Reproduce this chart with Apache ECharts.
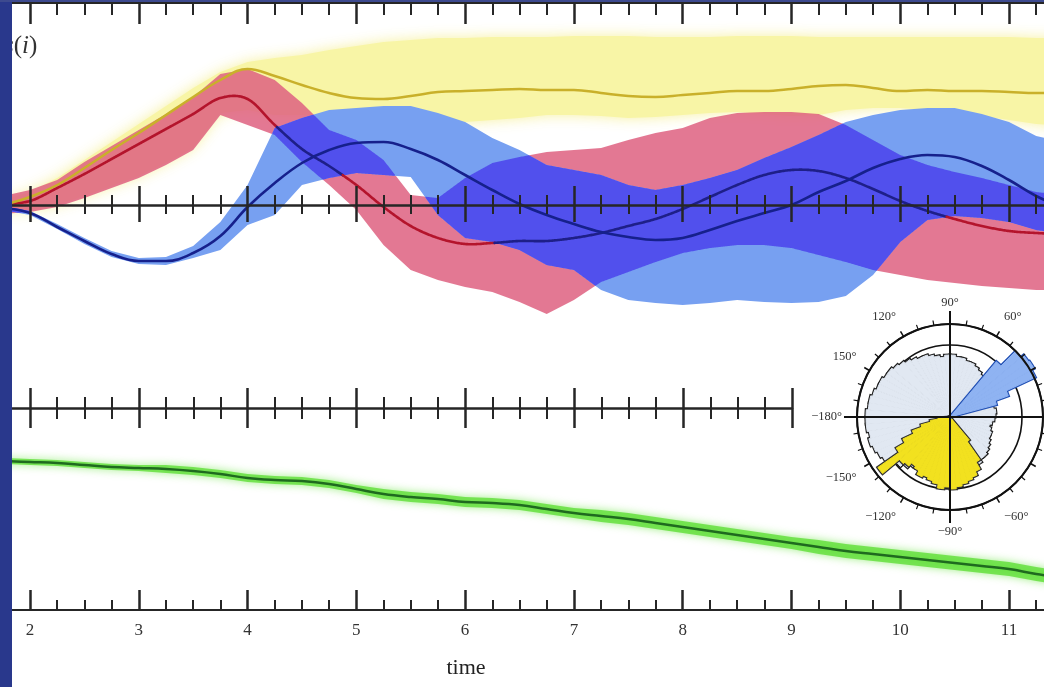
<!DOCTYPE html>
<html><head><meta charset="utf-8">
<script src="https://cdn.jsdelivr.net/npm/echarts@6/dist/echarts.min.js"></script>
<style>html,body{margin:0;padding:0;background:#fff}#c{width:1044px;height:687px}</style>
</head><body><div id="c"></div>
<script>
// ---------- data ----------
const times = [1.75,2,2.25,2.5,2.75,3,3.25,3.5,3.75,4,4.25,4.5,4.75,5,5.25,5.5,5.75,6,6.25,6.5,6.75,7,7.25,7.5,7.75,8,8.25,8.5,8.75,9,9.25,9.5,9.75,10,10.25,10.5,10.75,11,11.25,11.5];

const redMean = [0.03,0.06,0.19,0.33,0.48,0.63,0.78,0.93,1.09,1.08, 0.82,0.58,0.41,0.22,0.00,-0.19,-0.31,-0.37,-0.36,-0.34, -0.34,-0.31,-0.26,-0.19,-0.12,-0.02,0.10,0.22,0.32,0.37, 0.36,0.29,0.18,0.06,-0.04,-0.12,-0.19,-0.24,-0.26,-0.27];
const redUpper = [0.11,0.17,0.27,0.45,0.61,0.77,0.93,1.10,1.33,1.38, 1.27,1.04,0.77,0.67,0.47,0.12,0.09,0.29,0.44,0.50, 0.55,0.57,0.59,0.67,0.74,0.79,0.89,0.94,0.95,0.95, 0.93,0.82,0.67,0.52,0.42,0.35,0.29,0.22,0.15,0.12];
const redLower = [-0.07,-0.05,0.00,0.09,0.19,0.29,0.42,0.57,0.92,0.82, 0.72,0.45,0.22,-0.03,-0.38,-0.63,-0.73,-0.80,-0.85,-0.95, -1.07,-0.93,-0.75,-0.65,-0.55,-0.46,-0.41,-0.38,-0.38,-0.41, -0.48,-0.55,-0.63,-0.68,-0.73,-0.76,-0.79,-0.81,-0.83,-0.83];

const blueMean = [-0.01,-0.06,-0.20,-0.34,-0.47,-0.54,-0.54,-0.46,-0.29,0.00, 0.24,0.44,0.57,0.64,0.65,0.58,0.47,0.32,0.17,0.03, -0.08,-0.17,-0.25,-0.30,-0.33,-0.31,-0.23,-0.14,-0.06,0.02, 0.15,0.26,0.39,0.48,0.52,0.50,0.41,0.27,0.11,-0.01];
const blueUpper = [0.01,-0.04,-0.17,-0.31,-0.44,-0.51,-0.50,-0.39,-0.15,0.22, 0.79,0.89,0.97,0.99,1.01,1.01,0.94,0.85,0.69,0.57, 0.42,0.37,0.32,0.22,0.17,0.22,0.29,0.37,0.49,0.60, 0.72,0.85,0.92,0.97,0.99,0.99,0.93,0.85,0.71,0.65];
const blueLower = [-0.03,-0.08,-0.22,-0.37,-0.50,-0.57,-0.58,-0.51,-0.43,-0.18, -0.08,0.22,0.29,0.34,0.32,0.30,-0.08,-0.31,-0.35,-0.43, -0.58,-0.63,-0.83,-0.93,-0.96,-0.98,-0.96,-0.93,-0.95,-0.96, -0.95,-0.89,-0.68,-0.35,-0.13,-0.09,-0.11,-0.15,-0.23,-0.27];

const yellowMean = [0.02,0.10,0.22,0.39,0.57,0.74,0.92,1.10,1.27,1.38, 1.31,1.22,1.14,1.09,1.08,1.11,1.15,1.16,1.17,1.18, 1.17,1.17,1.14,1.11,1.10,1.12,1.14,1.16,1.16,1.18, 1.21,1.22,1.19,1.16,1.17,1.16,1.16,1.15,1.14,1.14];
const yellowUpper = [0.07,0.15,0.29,0.47,0.65,0.83,1.01,1.19,1.35,1.45, 1.49,1.52,1.57,1.61,1.65,1.67,1.69,1.69,1.70,1.70, 1.70,1.71,1.71,1.71,1.70,1.70,1.70,1.71,1.71,1.71, 1.70,1.70,1.70,1.70,1.70,1.70,1.70,1.70,1.69,1.69];
const yellowLower = [-0.05,-0.03,0.02,0.11,0.21,0.31,0.44,0.59,0.94,0.97, 0.92,0.92,0.92,0.89,0.87,0.87,0.87,0.85,0.87,0.89, 0.92,0.92,0.91,0.89,0.90,0.92,0.94,0.95,0.93,0.91, 0.92,0.97,0.99,0.99,0.97,0.95,0.91,0.87,0.83,0.81];

const greenMean = [1.49,1.48,1.47,1.45,1.43,1.42,1.41,1.39,1.36,1.32, 1.30,1.29,1.26,1.21,1.16,1.13,1.11,1.08,1.07,1.05, 1.01,0.97,0.94,0.91,0.87,0.83,0.79,0.75,0.71,0.67, 0.63,0.59,0.56,0.53,0.50,0.47,0.44,0.41,0.36,0.32];
const greenUpper = [1.52,1.51,1.50,1.48,1.46,1.45,1.45,1.43,1.40,1.36, 1.34,1.33,1.30,1.25,1.21,1.18,1.16,1.13,1.12,1.10, 1.06,1.02,1.00,0.97,0.93,0.89,0.85,0.81,0.77,0.73, 0.70,0.66,0.63,0.60,0.57,0.54,0.51,0.48,0.43,0.39];
const greenLower = [1.46,1.45,1.44,1.42,1.40,1.39,1.37,1.35,1.32,1.28, 1.26,1.25,1.22,1.17,1.11,1.08,1.06,1.03,1.02,1.00, 0.96,0.92,0.88,0.85,0.81,0.77,0.73,0.69,0.65,0.61, 0.56,0.52,0.49,0.46,0.43,0.40,0.37,0.34,0.29,0.25];

// tick positions of the time axes
const majorTicks = [2,3,4,5,6,7,8,9,10,11];
const minorTicks = [2.25,2.5,2.75,3.25,3.5,3.75,4.25,4.5,4.75,5.25,5.5,5.75,6.25,6.5,6.75,7.25,7.5,7.75,8.25,8.5,8.75,9.25,9.5,9.75,10.25,10.5,10.75,11.25];
const majorTicksShort = [2,3,4,5,6,7,8,9];
const minorTicksShort = [2.25,2.5,2.75,3.25,3.5,3.75,4.25,4.5,4.75,5.25,5.5,5.75,6.25,6.5,6.75,7.25,7.5,7.75,8.25,8.5,8.75];

// polar inset: 5-degree bins starting at -180
const roseBinStarts = [];
for (let a = -180; a < 180; a += 5) roseBinStarts.push(a);
const grayRose = [84,84,82,84,82,80,78,72,70,66, 62,60,58,56,55,55,54,52,50,50, 52,54,55,56,55,52,52,50,48,46, 44,44,42,40,42,44,45,46,44,40, 42,42,44,46,48,50,52,54,56,58, 58,60,60,62,62,60,62,64,66,66, 68,70,72,74,76,76,78,78,80,82, 82,84];
const yellowRoseStarts = [-175,-170,-165,-160,-155,-150,-145,-140,-135,-130,-125,-120,-115,-110,-105,-100,-95,-90,-85,-80,-75,-70,-65,-60,-55];
const yellowRoseRadii  = [12,20,30,40,52,62,88,66,64,60,62,66,64,66,68,72,70,72,70,68,66,64,60,52,30];
const blueRoseStarts = [15,20,25,30,35,40,45];
const blueRoseRadii  = [48,62,94,97,96,92,72];

// ---------- helpers ----------
function sparse(starts, radii) {
  const out = roseBinStarts.map(() => null);
  starts.forEach((s, k) => { out[roseBinStarts.indexOf(s)] = radii[k]; });
  return out;
}
function zip(a) { return times.map((t, i) => [t, a[i]]); }
const lerp = (a, i, f) => a[i] + (a[i + 1] - a[i]) * f;
function catmull(a, i, f) {
  const p0 = a[Math.max(i - 1, 0)], p1 = a[i], p2 = a[i + 1], p3 = a[Math.min(i + 2, a.length - 1)];
  return 0.5 * (2 * p1 + (-p0 + p2) * f + (2 * p0 - 5 * p1 + 4 * p2 - p3) * f * f + (-p0 + 3 * p1 - 3 * p2 + p3) * f * f * f);
}

function bandSeries(upper, lower, gi, style, z) {
  return {
    type: 'custom', xAxisIndex: gi, yAxisIndex: gi, z: z, silent: true, clip: true,
    data: [[times[1], upper[1]]],
    renderItem(params, api) {
      const pts = [];
      for (let i = 0; i < times.length; i++) pts.push(api.coord([times[i], upper[i]]));
      for (let i = times.length - 1; i >= 0; i--) pts.push(api.coord([times[i], lower[i]]));
      return { type: 'polygon', shape: { points: pts }, style: style };
    }
  };
}
const NSUB = 24;
function overlapAt(i, f) {
  const top = Math.min(lerp(redUpper, i, f), lerp(blueUpper, i, f));
  const bot = Math.max(lerp(redLower, i, f), lerp(blueLower, i, f));
  return [top, bot];
}
// region where the red and blue bands overlap (drawn in the darker colour)
function overlapSeries(style, z) {
  return {
    type: 'custom', xAxisIndex: 0, yAxisIndex: 0, z: z, silent: true, clip: true,
    data: [[times[1], redUpper[1]]],
    renderItem(params, api) {
      const runs = [];
      let cur = null;
      for (let i = 0; i < times.length - 1; i++) {
        for (let k = 0; k < NSUB; k++) {
          const f = k / NSUB, t = lerp(times, i, f);
          const [top, bot] = overlapAt(i, f);
          if (top > bot) { if (!cur) { cur = []; runs.push(cur); } cur.push([t, top, bot]); }
          else cur = null;
        }
      }
      const children = runs.filter(r => r.length > 1).map(r => {
        const pts = r.map(p => api.coord([p[0], p[1]]));
        for (let j = r.length - 1; j >= 0; j--) pts.push(api.coord([r[j][0], r[j][2]]));
        return { type: 'polygon', shape: { points: pts }, style: style };
      });
      return { type: 'group', children: children };
    }
  };
}
// red mean line: shows red over the pink band, dark where it runs under the overlap band
function redLineSeries(z) {
  return {
    type: 'custom', xAxisIndex: 0, yAxisIndex: 0, z: z, silent: true, clip: true,
    data: [[times[1], redMean[1]]],
    renderItem(params, api) {
      const runs = [];
      let cur = null, curIn = null;
      for (let i = 0; i < times.length - 1; i++) {
        for (let k = 0; k <= (i === times.length - 2 ? NSUB : NSUB - 1); k++) {
          const f = k / NSUB, t = lerp(times, i, f), v = catmull(redMean, i, f);
          const [top, bot] = overlapAt(i, f);
          const inside = top > bot && v < top && v > bot;
          const p = api.coord([t, v]);
          if (cur && curIn === inside) cur.push(p);
          else { const prev = cur ? cur[cur.length - 1] : null; cur = prev ? [prev, p] : [p]; curIn = inside; runs.push({ inside, pts: cur }); }
        }
      }
      return { type: 'group', children: runs.filter(r => r.pts.length > 1).map(r => ({
        type: 'polyline', shape: { points: r.pts },
        style: { stroke: r.inside ? '#1e1f88' : '#b4142c', lineWidth: 2.6, fill: 'none', lineJoin: 'round', lineCap: 'round' }
      })) };
    }
  };
}
function roseLayer(data, fill, edge, z) {
  const base = { type: 'bar', coordinateSystem: 'polar', polarIndex: 1, data: data, barCategoryGap: '0%', barGap: '-100%', silent: true };
  return [
    Object.assign({}, base, { z: z, itemStyle: { color: edge, borderColor: edge, borderWidth: 3.2 } }),
    Object.assign({}, base, { z: z + 1, itemStyle: { color: fill, borderColor: fill, borderWidth: 1 } })
  ];
}

// ---------- layout ----------
const PX = 108.78;                 // pixels per time unit
const L = 12;                      // plot left edge (right of the blue frame)
const T_MIN = 2 - (30 - L) / PX;   // time at the left edge
const T_MAX = T_MIN + (1044 - L) / PX;
const AX = '#262626';

const grids = [], xAxes = [], yAxes = [];
function addGrid(g) { grids.push(g); return grids.length - 1; }
function hiddenPair(g, ymin, ymax, xmax) {
  const gi = addGrid(g);
  xAxes.push({ gridIndex: gi, type: 'value', min: T_MIN, max: xmax || T_MAX, show: false });
  yAxes.push({ gridIndex: gi, type: 'value', min: ymin, max: ymax, show: false });
  return gi;
}
function tickGrid(top, height, pos, len, values, right, xmax, lineW, extra) {
  const gi = addGrid({ left: L, right: right, top: top, height: height });
  xAxes.push(Object.assign({
    gridIndex: gi, type: 'value', position: pos, min: T_MIN, max: xmax, z: 10,
    axisLine: { show: lineW > 0, onZero: false, lineStyle: { color: AX, width: lineW } },
    axisTick: { show: true, inside: true, length: len, customValues: values, lineStyle: { color: AX, width: len > 14 ? 2.5 : 2 } },
    axisLabel: { show: false }, splitLine: { show: false }
  }, extra || {}));
  yAxes.push({ gridIndex: gi, type: 'value', min: 0, max: 1, show: false });
}

hiddenPair({ left: L, right: 0, top: 7, height: 400 }, -2, 2);   // 0: top data panel
hiddenPair({ left: L, right: 0, top: 410, height: 200 }, 0, 2);  // 1: bottom data panel
// top frame axis
tickGrid(3, 22, 'top', 21, majorTicks, 0, T_MAX, 2);
tickGrid(3, 22, 'top', 12, minorTicks, 0, T_MAX, 0);
// middle crossing axis (y = 205)
tickGrid(185, 20, 'bottom', 19, majorTicks, 0, T_MAX, 2.5);
tickGrid(185, 20, 'bottom', 10, minorTicks, 0, T_MAX, 0);
tickGrid(205, 20, 'top', 17, majorTicks, 0, T_MAX, 0);
tickGrid(205, 20, 'top', 9, minorTicks, 0, T_MAX, 0);
// second crossing axis (y = 408), ends at t = 9
tickGrid(388, 20, 'bottom', 20, majorTicksShort, 252, 9, 2.5);
tickGrid(388, 20, 'bottom', 11, minorTicksShort, 252, 9, 0);
tickGrid(408, 20, 'top', 20, majorTicksShort, 252, 9, 0);
tickGrid(408, 20, 'top', 11, minorTicksShort, 252, 9, 0);
// bottom axis with labels (y = 610)
tickGrid(590, 20, 'bottom', 20, majorTicks, 0, T_MAX, 2, {
  axisLabel: { show: true, customValues: majorTicks, margin: 12, fontSize: 17, fontFamily: 'Liberation Serif', color: '#333' }
});
tickGrid(590, 20, 'bottom', 10, minorTicks, 0, T_MAX, 0);

const option = {
  animation: false,
  backgroundColor: '#ffffff',
  grid: grids, xAxis: xAxes, yAxis: yAxes,
  polar: [
    { center: [950, 417], radius: 93 },
    { center: [950, 417], radius: 106 }
  ],
  angleAxis: [
    { polarIndex: 0, type: 'value', min: -180, max: 180, interval: 30, startAngle: 180, clockwise: false, z: 30,
      axisLine: { show: true, lineStyle: { color: '#111', width: 2 } },
      axisTick: { show: true, inside: false, length: 6, lineStyle: { color: '#111', width: 1.5 } },
      minorTick: { show: true, splitNumber: 3, length: 5, lineStyle: { color: '#111', width: 1.2 } },
      axisLabel: { show: true, margin: 15, fontSize: 12.5, fontFamily: 'Liberation Serif', color: '#333',
        formatter: v => (v < 0 ? '\u2212' + (-v) : v) + '\u00b0' },
      splitLine: { show: false } },
    { polarIndex: 1, type: 'category', data: roseBinStarts, startAngle: 180, clockwise: false, boundaryGap: true, z: 32,
      axisLine: { show: false }, axisTick: { show: false, interval: 17 }, axisLabel: { show: false, interval: 17 },
      splitLine: { show: true, interval: 17, lineStyle: { color: '#111', width: 2 } } }
  ],
  radiusAxis: [
    { polarIndex: 0, type: 'value', min: 0, max: 93, interval: 36, z: 5,
      axisLine: { show: false }, axisTick: { show: false }, axisLabel: { show: false },
      splitLine: { show: true, lineStyle: { color: ['#000', '#c8ccd4', '#111', '#111'], width: 1.6 } } },
    { polarIndex: 1, type: 'value', min: 0, max: 106, show: false,
      axisLine: { show: false }, axisTick: { show: false }, axisLabel: { show: false }, splitLine: { show: false } }
  ],
  graphic: [
    { type: 'rect', shape: { x: 0, y: 0, width: 12, height: 687 }, style: { fill: '#29388c' }, z: 100 },
    { type: 'rect', shape: { x: 0, y: 0, width: 1044, height: 2 }, style: { fill: '#3d4a8f' }, z: 100 },
    { type: 'text', x: 4, y: 46, z: 50,
      style: { text: '{i|s}({i|i})', fontSize: 25, fontFamily: 'Liberation Serif', fill: '#333', verticalAlign: 'middle',
        rich: { i: { fontStyle: 'italic', fontSize: 25, fontFamily: 'Liberation Serif', fill: '#333' } } } },
    { type: 'text', x: 466, y: 668, z: 50,
      style: { text: 'time', fontSize: 22, fontFamily: 'Liberation Serif', fill: '#222', align: 'center', verticalAlign: 'middle' } }
  ],
  series: [
    bandSeries(yellowUpper, yellowLower, 0, { fill: '#f8f5a6', shadowBlur: 14, shadowColor: 'rgba(246,240,150,0.9)' }, 1),
    bandSeries(redUpper, redLower, 0, { fill: 'rgba(222,96,128,0.85)' }, 2),
    bandSeries(blueUpper, blueLower, 0, { fill: '#77a0f1' }, 3),
    overlapSeries({ fill: 'rgba(74,66,236,0.85)' }, 5),
    redLineSeries(6),
    { type: 'line', xAxisIndex: 0, yAxisIndex: 0, data: zip(yellowMean), smooth: 0.4, showSymbol: false, z: 7, silent: true,
      lineStyle: { color: '#c9b02a', width: 2.5 } },
    { type: 'line', xAxisIndex: 0, yAxisIndex: 0, data: zip(blueMean), smooth: 0.4, showSymbol: false, z: 8, silent: true,
      lineStyle: { color: '#16208c', width: 2.6 } },
    bandSeries(greenUpper, greenLower, 1, { fill: 'rgba(95,222,55,0.8)', shadowBlur: 8, shadowColor: 'rgba(110,230,70,0.8)' }, 2),
    { type: 'line', xAxisIndex: 1, yAxisIndex: 1, data: zip(greenMean), smooth: 0.4, showSymbol: false, z: 4, silent: true,
      lineStyle: { color: '#1f6a1f', width: 2.5 } }
  ].concat(
    roseLayer(grayRose, '#e1e8f2', '#222', 20),
    roseLayer(sparse(yellowRoseStarts, yellowRoseRadii), '#f2e11f', '#333', 22),
    roseLayer(sparse(blueRoseStarts, blueRoseRadii), '#8fb3f2', '#2452b5', 24)
  )
};
const chart = echarts.init(document.getElementById('c'));
chart.setOption(option);
</script>
</body></html>
